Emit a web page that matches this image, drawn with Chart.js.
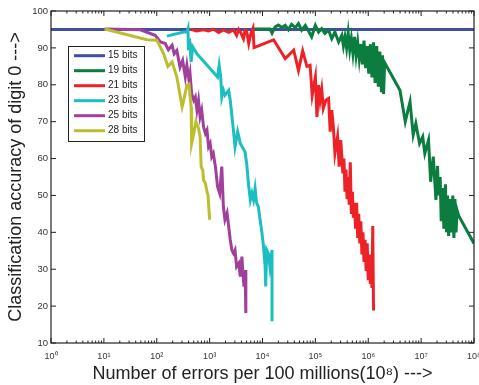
<!DOCTYPE html>
<html>
<head>
<meta charset="utf-8">
<script src="https://cdn.jsdelivr.net/npm/chart.js@4"></script>
<style>
  html, body { margin: 0; padding: 0; background: #fff; }
  #wrap { width: 479px; height: 385px; }
</style>
</head>
<body>
<div id="wrap"><canvas id="chart"></canvas></div>
<script>
// x values are read as log10(errors per 1e8), y values as accuracy (%)
let seriesLabels = ['15 bits', '19 bits', '21 bits', '23 bits', '25 bits', '28 bits']
let seriesColors = ['#3f4fa2', '#0b7d3e', '#ed2227', '#1dbec1', '#a1409b', '#bdbe2f']

let logErr15 = [0, 8]
let acc15 = [95, 95]

let logErr19 = [3.83, 4.14, 4.18, 4.24, 4.30, 4.37, 4.43, 4.49, 4.55, 4.62, 4.68, 4.74, 4.81, 4.87, 4.93, 5.0,
    5.06, 5.12, 5.18, 5.25, 5.31, 5.37, 5.44,
    5.50, 5.53, 5.56, 5.59, 5.62, 5.65, 5.68, 5.71, 5.74, 5.77, 5.80, 5.83, 5.86, 5.89, 5.92, 5.95, 5.98,
    6.01, 6.04, 6.07, 6.10, 6.13, 6.16, 6.19, 6.22, 6.25, 6.27, 6.29, 6.31, 6.33,
    6.60, 6.70, 6.79, 6.85, 6.90, 6.97, 7.03, 7.07, 7.14, 7.18, 7.23,
    7.28, 7.31, 7.33, 7.36, 7.38, 7.41, 7.43, 7.46, 7.48, 7.50, 7.52, 7.55, 7.57, 7.60, 7.62, 7.64, 7.66,
    7.68, 7.71, 8.0]
let acc19 = [95.1, 95.1, 94.0, 95.7, 96.2, 95.5, 96.1, 94.9, 96.4, 95.5, 96.6, 94.8, 96.1, 94.6, 93.0, 96.1,
    94.3, 95.2, 93.9, 94.8, 92.5, 94.3, 91.6,
    93.4, 90.5, 93.0, 90.0, 94.0, 89.5, 92.5, 88.5, 93.0, 88.0, 91.5, 87.0, 91.0, 85.5, 92.0, 84.5, 90.5,
    83.0, 91.0, 82.0, 91.5, 80.5, 90.5, 79.5, 89.0, 78.0, 88.0, 77.5, 86.0, 85.5,
    78.5, 70.0, 75.4, 66.4, 69.5, 64.1, 65.9, 61.4, 65.0, 53.7, 60.5,
    48.8, 58.0, 50.0, 55.0, 43.0, 52.0, 41.0, 53.0, 40.0, 50.0, 39.0, 49.0, 40.0, 50.0, 38.5, 49.0, 40.0,
    46.0, 44.5, 37.0]

let logErr21 = [2.63, 2.75, 2.885, 2.98, 3.07, 3.17, 3.26, 3.36, 3.45, 3.51, 3.55, 3.58, 3.64, 3.67, 3.70,
    3.74, 3.78, 3.82, 3.84, 4.21, 4.43, 4.59, 4.68, 4.76, 4.84, 4.90, 4.94, 5.0, 5.03, 5.06, 5.09, 5.12,
    5.15, 5.20, 5.25, 5.28, 5.31, 5.34, 5.37, 5.42, 5.45, 5.48,
    5.52, 5.54, 5.56, 5.58, 5.60, 5.62, 5.64, 5.66, 5.68, 5.70, 5.72, 5.74, 5.76, 5.78, 5.80, 5.82, 5.84,
    5.86, 5.88, 5.90, 5.92, 5.94, 5.96, 5.98, 6.00, 6.02, 6.04, 6.06, 6.07, 6.085, 6.10]
let acc21 = [95.1, 94.6, 94.9, 94.6, 95.1, 94.2, 94.9, 94.2, 94.9, 93.4, 95.0, 94.4, 92.5, 94.8, 94.6,
    91.2, 93.9, 95.3, 90.1, 92.2, 87.1, 89.4, 83.9, 89.2, 85.0, 85.3, 77.2, 82.1, 71.3, 79.9, 75.8, 78.7,
    73.6, 75.8, 76.3, 67.3, 73.1, 68.6, 61.4, 65.9, 57.8, 65.0,
    56.0, 60.0, 51.0, 57.0, 49.0, 55.0, 47.5, 59.0, 45.0, 51.0, 44.0, 48.0, 41.0, 48.0, 38.5, 45.0, 37.0,
    43.0, 34.0, 40.0, 32.0, 38.0, 29.5, 37.0, 27.0, 34.0, 26.0, 32.0, 24.9, 41.7, 18.8]

let logErr23 = [2.19, 2.51, 2.57, 2.59, 2.60, 2.62, 2.65, 2.68, 2.76, 3.15, 3.18, 3.21, 3.23, 3.26, 3.29,
    3.36, 3.39, 3.45, 3.48, 3.53, 3.58, 3.67, 3.70, 3.74, 3.77, 3.80, 3.83, 3.86, 3.89, 3.92, 3.99, 4.02,
    4.05, 4.06, 4.08, 4.11, 4.14, 4.18, 4.18]
let acc23 = [93.2, 94.3, 94.3, 95.2, 89.4, 92.5, 86.2, 90.3, 88.4, 82.1, 85.3, 82.1, 76.7, 78.5, 77.2,
    78.5, 75.8, 67.7, 63.2, 67.3, 64.1, 61.8, 58.7, 52.4, 48.8, 50.6, 48.8, 51.9, 47.9, 47.0, 39.8, 36.1,
    30.7, 25.3, 35.2, 34.3, 30.7, 35.2, 15.9]

let logErr25 = [1.014, 1.69, 1.97, 2.07, 2.16, 2.22, 2.29, 2.33, 2.38, 2.44, 2.49, 2.54, 2.57, 2.61, 2.63,
    2.66, 2.70, 2.73, 2.76, 2.79, 2.82, 2.85, 2.885, 2.92, 2.95, 2.98, 3.01, 3.04, 3.07, 3.11, 3.15, 3.19,
    3.23, 3.26, 3.29, 3.33, 3.36, 3.39, 3.42, 3.45, 3.48, 3.51, 3.55, 3.58, 3.61, 3.63, 3.65, 3.67, 3.685]
let acc25 = [95.1, 94.9, 93.4, 91.6, 91.2, 89.5, 90.7, 88.4, 89.3, 84.8, 86.6, 82.1, 85.3, 81.2, 83.0,
    77.6, 75.8, 76.7, 73.1, 75.8, 71.3, 73.1, 68.6, 66.8, 67.7, 63.2, 64.1, 60.5, 61.4, 57.8, 52.4, 50.6,
    57.8, 47.0, 43.4, 45.2, 41.6, 38.0, 35.2, 34.3, 35.2, 30.7, 31.6, 28.0, 33.4, 28.9, 25.3, 29.8, 18.1]

let logErr28 = [1.014, 1.814, 2.003, 2.13, 2.21, 2.29, 2.38, 2.48, 2.51, 2.57, 2.61, 2.65, 2.66, 2.70, 2.74,
    2.79, 2.82, 2.84, 2.87, 2.885, 2.92, 2.95, 2.97, 3.0]
let acc28 = [95.1, 92.2, 92.1, 88.4, 85.0, 86.2, 82.1, 74.0, 75.8, 79.9, 80.2, 74.0, 64.1, 66.8, 70.0,
    68.2, 65.9, 57.8, 56.9, 54.2, 53.3, 51.0, 50.1, 43.4]

let xTickPowers = [0, 1, 2, 3, 4, 5, 6, 7, 8]
let yTicks = [10, 20, 30, 40, 50, 60, 70, 80, 90, 100]

let allLogErr = [logErr15, logErr19, logErr21, logErr23, logErr25, logErr28]
let allAcc = [acc15, acc19, acc21, acc23, acc25, acc28]

let sup = {'0': '\u2070', '1': '\u00b9', '2': '\u00b2', '3': '\u00b3', '4': '\u2074',
    '5': '\u2075', '6': '\u2076', '7': '\u2077', '8': '\u2078', '9': '\u2079'}

let datasets = seriesLabels.map((label, i) => ({
    label: label,
    data: allLogErr[i].map((e, j) => ({x: Math.pow(10, e), y: allAcc[i][j]})),
    borderColor: seriesColors[i],
    backgroundColor: seriesColors[i],
    borderWidth: 3,
    pointRadius: 0,
    fill: false,
    tension: 0,
    order: seriesLabels.length - i
}))

// MATLAB style box, inward ticks and legend
let boxPlugin = {
    id: 'box',
    afterDraw(chart) {
        let c = chart.ctx
        let a = chart.chartArea
        let xs = chart.scales.x
        let ys = chart.scales.y
        c.save()
        c.strokeStyle = '#222'
        c.lineWidth = 1.2
        c.strokeRect(a.left, a.top, a.right - a.left, a.bottom - a.top)
        c.lineWidth = 1
        c.beginPath()
        xTickPowers.forEach(p => {
            for (let k = 1; k <= 9; k++) {
                let v = k * Math.pow(10, p)
                if (v > 1e8) break
                let px = xs.getPixelForValue(v)
                let len = k === 1 ? 5 : 2.5
                c.moveTo(px, a.bottom); c.lineTo(px, a.bottom - len)
                c.moveTo(px, a.top); c.lineTo(px, a.top + len)
            }
        })
        yTicks.forEach(v => {
            let py = ys.getPixelForValue(v)
            c.moveTo(a.left, py); c.lineTo(a.left + 5, py)
            c.moveTo(a.right, py); c.lineTo(a.right - 5, py)
        })
        c.stroke()

        // legend
        let lx = 68, ly = 46, lw = 76, lh = 95
        c.fillStyle = '#fff'
        c.fillRect(lx, ly, lw, lh)
        c.strokeStyle = '#222'
        c.lineWidth = 1
        c.strokeRect(lx + 0.5, ly + 0.5, lw, lh)
        c.font = '10px "Liberation Sans", Arial, sans-serif'
        c.textBaseline = 'middle'
        chart.data.datasets.forEach((ds, i) => {
            let y = 55.7 + 15 * i
            c.strokeStyle = ds.borderColor
            c.lineWidth = 3
            c.beginPath()
            c.moveTo(74, y); c.lineTo(105, y)
            c.stroke()
            c.fillStyle = '#222'
            c.fillText(ds.label, 108, y)
        })
        c.restore()
    }
}

Chart.defaults.font.family = '"Liberation Sans", Arial, sans-serif'
Chart.defaults.color = '#333'

let ctx = document.querySelector('#chart')
let chart = new Chart(ctx, {
    type: 'line',
    data: {datasets: datasets},
    options: {
        responsive: true,
        maintainAspectRatio: false,
        animation: false,
        layout: {padding: {left: 0, right: 5, top: 11, bottom: 0}},
        plugins: {legend: {display: false}, tooltip: {enabled: false}},
        scales: {
            x: {
                type: 'logarithmic',
                min: 1,
                max: 1e8,
                grid: {display: false, drawTicks: false},
                border: {display: false},
                afterBuildTicks(scale) {
                    scale.ticks = xTickPowers.map(p => ({value: Math.pow(10, p)}))
                },
                afterFit(scale) {
                    scale.height = 42
                    scale.paddingLeft = 0
                    scale.paddingRight = 0
                },
                ticks: {
                    autoSkip: false,
                    maxRotation: 0,
                    padding: 8,
                    font: {size: 9},
                    color: '#333',
                    callback: (v) => '10' + sup[String(Math.round(Math.log10(v)))]
                },
                title: {
                    display: true,
                    text: 'Number of errors per 100 millions(10\u2078) --->',
                    font: {size: 18},
                    color: '#222',
                    padding: {top: 0, bottom: 0}
                }
            },
            y: {
                min: 10,
                max: 100,
                grid: {display: false, drawTicks: false},
                border: {display: false},
                afterBuildTicks(scale) {
                    scale.ticks = yTicks.map(v => ({value: v}))
                },
                afterFit(scale) {
                    scale.width = 51
                },
                ticks: {padding: 3, font: {size: 9.5}, color: '#333'},
                title: {
                    display: true,
                    text: 'Classification accuracy of digit 0 --->',
                    font: {size: 18},
                    color: '#222',
                    padding: {top: 5, bottom: 0}
                }
            }
        }
    },
    plugins: [boxPlugin]
})
</script>
</body>
</html>
